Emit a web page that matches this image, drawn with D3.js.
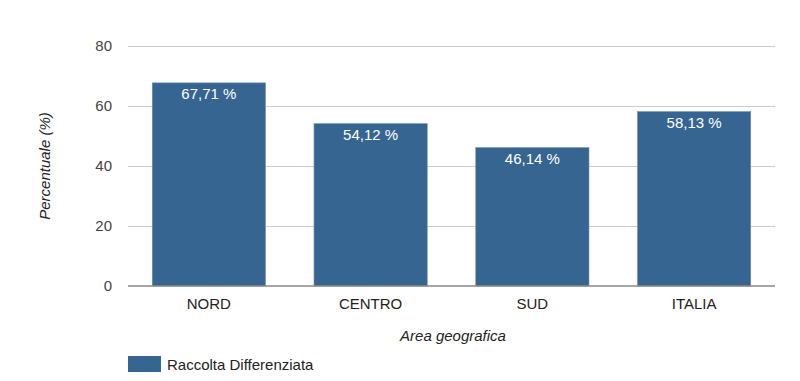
<!DOCTYPE html>
<html><head><meta charset="utf-8">
<script src="https://cdn.jsdelivr.net/npm/d3@7"></script>
<style>body{margin:0;background:#fff;}svg{display:block;}text{font-family:"Liberation Sans",Arial,sans-serif;}</style>
</head><body>
<svg id="c" width="800" height="381"></svg>
<script>
const categories = ["NORD", "CENTRO", "SUD", "ITALIA"];
const values = [67.71, 54.12, 46.14, 58.13];
const valueLabels = ["67,71 %", "54,12 %", "46,14 %", "58,13 %"];
const yTicks = [0, 20, 40, 60, 80];
const seriesName = "Raccolta Differenziata";

(function () {
const svg = d3.select("#c");
const mLeft = 128, mRight = 775, mTop = 46, mBottom = 286;
const x = d3.scaleBand().domain(categories).range([mLeft, mRight]).paddingInner(0.3).paddingOuter(0.15);
const y = d3.scaleLinear().domain([0, 80]).range([mBottom, mTop]);
const color = "#366592";
const fs = 15;

// grid
svg.append("g").selectAll("line").data(yTicks.filter(d => d > 0)).join("line")
  .attr("x1", mLeft).attr("x2", mRight).attr("y1", d => y(d)).attr("y2", d => y(d))
  .attr("stroke", "#cccccc").attr("stroke-width", 1).attr("shape-rendering", "crispEdges");

// y tick labels
svg.append("g").selectAll("text").data(yTicks).join("text")
  .attr("x", 112).attr("y", d => y(d)).attr("dy", "0.35em").attr("text-anchor", "end")
  .attr("font-size", fs).attr("fill", "#444").text(d => d);

// bars
svg.append("g").selectAll("rect").data(values).join("rect")
  .attr("x", (d, i) => x(categories[i])).attr("width", x.bandwidth())
  .attr("y", d => y(d)).attr("height", d => y(0) - y(d))
  .attr("fill", color).attr("stroke", "#6f8fb0").attr("stroke-width", 0.6);

// value labels
svg.append("g").selectAll("text").data(values).join("text")
  .attr("x", (d, i) => x(categories[i]) + x.bandwidth() / 2)
  .attr("y", d => y(d) + 16).attr("text-anchor", "middle")
  .attr("font-size", fs).attr("fill", "#ffffff").text((d, i) => valueLabels[i]);

// baseline
svg.append("line").attr("x1", mLeft).attr("x2", mRight).attr("y1", y(0)).attr("y2", y(0))
  .attr("stroke", "#888").attr("stroke-width", 1.5);

// x labels
svg.append("g").selectAll("text").data(categories).join("text")
  .attr("x", d => x(d) + x.bandwidth() / 2).attr("y", 309).attr("text-anchor", "middle")
  .attr("font-size", fs).attr("fill", "#222").text(d => d);

// axis titles
svg.append("text").attr("x", 453).attr("y", 341).attr("text-anchor", "middle")
  .attr("font-size", fs).attr("font-style", "italic").attr("fill", "#222").text("Area geografica");
svg.append("text").attr("transform", "translate(50,166) rotate(-90)").attr("text-anchor", "middle")
  .attr("font-size", fs).attr("font-style", "italic").attr("fill", "#222").text("Percentuale (%)");

// legend
svg.append("rect").attr("x", 128).attr("y", 356).attr("width", 33).attr("height", 16).attr("fill", color);
svg.append("text").attr("x", 167).attr("y", 369.5).attr("font-size", fs).attr("fill", "#222").text(seriesName);
})();
</script>
</body></html>
